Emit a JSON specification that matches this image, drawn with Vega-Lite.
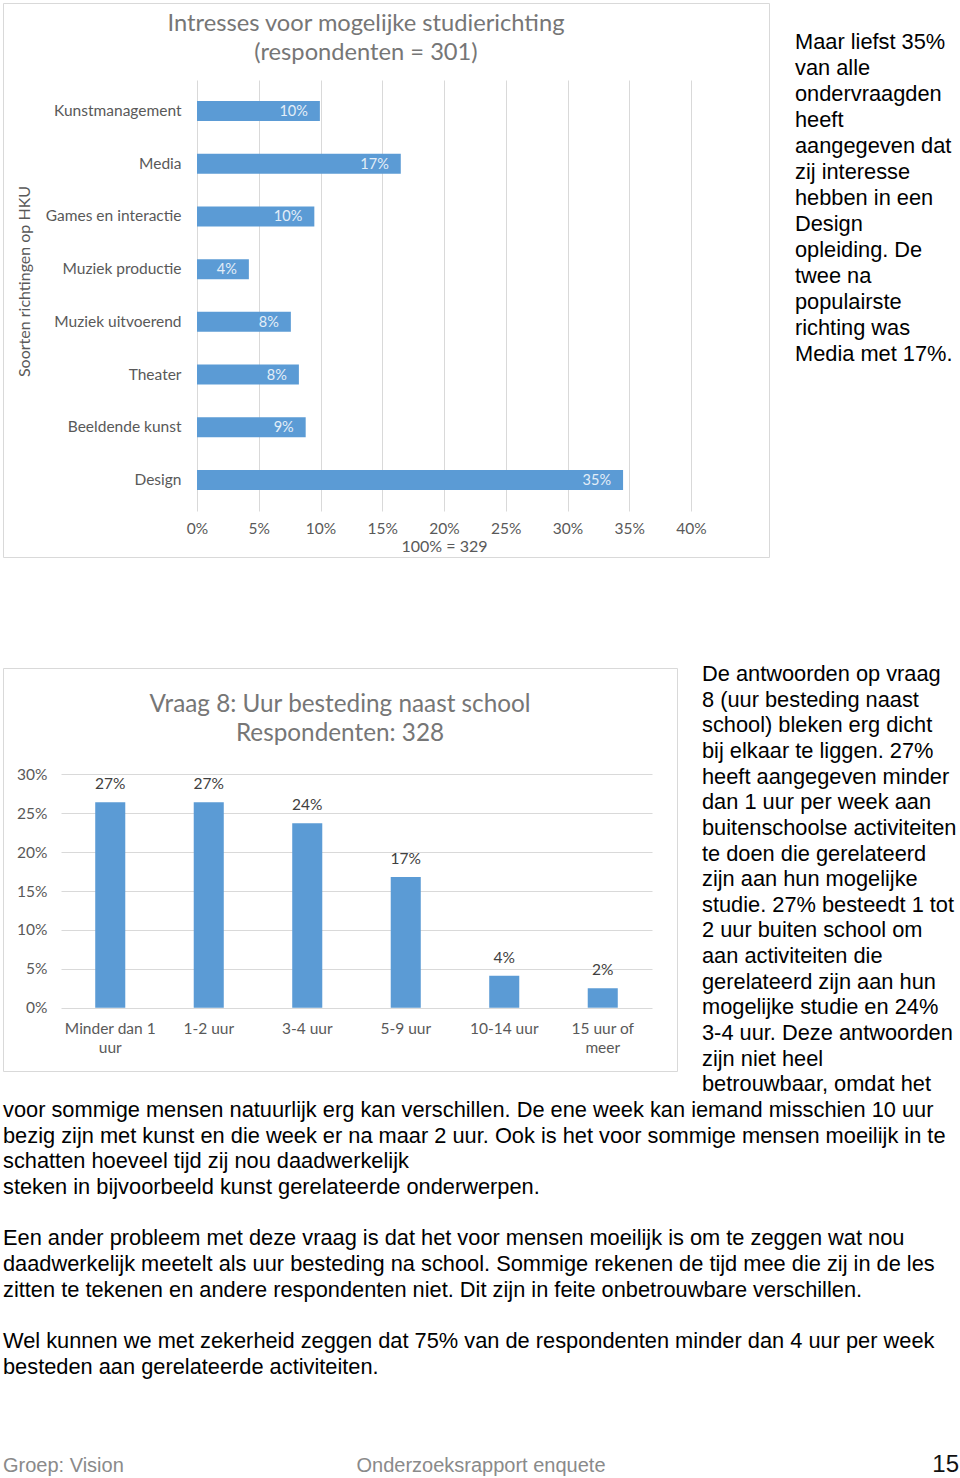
{
  "$schema": "https://vega.github.io/schema/vega-lite/v6.json",
  "padding": {"left": 2, "top": 2, "right": 0, "bottom": 0},
  "bounds": "flush",
  "spacing": 111,
  "config": {
    "view": {"stroke": "#d9d9d9", "strokeWidth": 1},
    "axis": {"labelFont": "Lato", "titleFont": "Lato", "labelColor": "#595959", "titleColor": "#595959", "labelFontSize": 15.5, "titleFontSize": 16, "titleFontWeight": "normal", "domain": false, "ticks": false, "gridColor": "#d9d9d9"},
    "title": {"font": "Lato", "fontWeight": "normal", "color": "#767676", "fontSize": 23.7, "lineHeight": 29}
  },
  "datasets": {
    "studie": [
      {"richting": "Kunstmanagement", "pct": 9.95, "label": "10%"},
      {"richting": "Media", "pct": 16.5, "label": "17%"},
      {"richting": "Games en interactie", "pct": 9.5, "label": "10%"},
      {"richting": "Muziek productie", "pct": 4.2, "label": "4%"},
      {"richting": "Muziek uitvoerend", "pct": 7.6, "label": "8%"},
      {"richting": "Theater", "pct": 8.25, "label": "8%"},
      {"richting": "Beeldende kunst", "pct": 8.8, "label": "9%"},
      {"richting": "Design", "pct": 34.5, "label": "35%"}
    ],
    "uren": [
      {"uren": "Minder dan 1 uur", "pct": 26.4, "label": "27%"},
      {"uren": "1-2 uur", "pct": 26.4, "label": "27%"},
      {"uren": "3-4 uur", "pct": 23.7, "label": "24%"},
      {"uren": "5-9 uur", "pct": 16.8, "label": "17%"},
      {"uren": "10-14 uur", "pct": 4.1, "label": "4%"},
      {"uren": "15 uur of meer", "pct": 2.5, "label": "2%"}
    ],
    "tekst1": [
      {"regel": 1, "tekst": "Maar liefst 35%"},
      {"regel": 2, "tekst": "\u00a0van alle"},
      {"regel": 3, "tekst": "ondervraagden"},
      {"regel": 4, "tekst": "heeft"},
      {"regel": 5, "tekst": "aangegeven dat"},
      {"regel": 6, "tekst": "zij interesse"},
      {"regel": 7, "tekst": "hebben in een"},
      {"regel": 8, "tekst": "Design"},
      {"regel": 9, "tekst": "opleiding. De"},
      {"regel": 10, "tekst": "twee na"},
      {"regel": 11, "tekst": "populairste"},
      {"regel": 12, "tekst": "richting was"},
      {"regel": 13, "tekst": "Media met 17%."}
    ],
    "tekst2": [
      {"regel": 1, "tekst": "De antwoorden op vraag"},
      {"regel": 2, "tekst": "8 (uur besteding naast"},
      {"regel": 3, "tekst": "school) bleken erg dicht"},
      {"regel": 4, "tekst": "bij elkaar te liggen. 27%"},
      {"regel": 5, "tekst": "heeft aangegeven minder"},
      {"regel": 6, "tekst": "dan 1 uur per week aan"},
      {"regel": 7, "tekst": "buitenschoolse activiteiten"},
      {"regel": 8, "tekst": "te doen die gerelateerd"},
      {"regel": 9, "tekst": "zijn aan hun mogelijke"},
      {"regel": 10, "tekst": "studie. 27% besteedt 1 tot"},
      {"regel": 11, "tekst": "2 uur buiten school om"},
      {"regel": 12, "tekst": "aan activiteiten die"},
      {"regel": 13, "tekst": "gerelateerd zijn aan hun"},
      {"regel": 14, "tekst": "mogelijke studie en 24%"},
      {"regel": 15, "tekst": "3-4 uur. Deze antwoorden"},
      {"regel": 16, "tekst": "zijn niet heel"},
      {"regel": 17, "tekst": "betrouwbaar, omdat het"},
      {"regel": 18, "tekst": "voor sommige mensen natuurlijk erg kan verschillen. De ene week kan iemand misschien 10 uur"},
      {"regel": 19, "tekst": "bezig zijn met kunst en die week er na maar 2 uur. Ook is het voor sommige mensen moeilijk in te"},
      {"regel": 20, "tekst": "schatten hoeveel tijd zij nou daadwerkelijk"},
      {"regel": 21, "tekst": "steken in bijvoorbeeld kunst gerelateerde onderwerpen."},
      {"regel": 23, "tekst": "Een ander probleem met deze vraag is dat het voor mensen moeilijk is om te zeggen wat nou"},
      {"regel": 24, "tekst": "daadwerkelijk meetelt als uur besteding na school. Sommige rekenen de tijd mee die zij in de les"},
      {"regel": 25, "tekst": "zitten te tekenen en andere respondenten niet. Dit zijn in feite onbetrouwbare verschillen."},
      {"regel": 27, "tekst": "Wel kunnen we met zekerheid zeggen dat 75% van de respondenten minder dan 4 uur per week"},
      {"regel": 28, "tekst": "besteden aan gerelateerde activiteiten."}
    ],
    "voet": [
      {"deel": "groep", "tekst": "Groep: Vision"},
      {"deel": "titel", "tekst": "Onderzoeksrapport enquete"},
      {"deel": "pagina", "tekst": "15"}
    ]
  },
  "vconcat": [
    {
      "width": 766,
      "height": 554,
      "title": {"text": ["Intresses voor mogelijke studierichting", "(respondenten = 301)"], "anchor": "middle", "dx": -20, "offset": -62},
      "resolve": {"scale": {"y": "independent"}},
      "layer": [
        {
          "data": {"name": "studie"},
          "encoding": {
            "y": {
              "field": "richting", "type": "nominal", "sort": null,
              "scale": {"range": [77, 508], "paddingInner": 0.62, "paddingOuter": 0.4},
              "axis": {"title": "Soorten richtingen op HKU", "orient": "left", "offset": -194, "labelPadding": 16, "grid": false, "titlePadding": 13, "titleY": 278, "labelLimit": 300}
            }
          },
          "resolve": {"axis": {"x": "independent"}},
          "layer": [
            {
              "mark": {"type": "bar", "color": "#5b9bd5"},
              "encoding": {
                "x": {
                  "field": "pct", "type": "quantitative",
                  "scale": {"domain": [0, 40], "range": [194, 688], "nice": false, "zero": true},
                  "axis": {"title": "100% = 329", "orient": "bottom", "offset": -46, "values": [0, 5, 10, 15, 20, 25, 30, 35, 40], "labelExpr": "datum.value + '%'", "labelFlush": false, "grid": false, "labelPadding": 10, "titlePadding": 2}
                }
              }
            },
            {
              "mark": {"type": "text", "align": "right", "baseline": "middle", "dx": -12, "dy": 1, "color": "#e3eef8", "font": "Lato", "fontSize": 14.5},
              "encoding": {
                "x": {
                  "field": "pct", "type": "quantitative",
                  "axis": {"title": null, "orient": "top", "values": [0, 5, 10, 15, 20, 25, 30, 35, 40], "labels": false, "grid": true}
                },
                "text": {"field": "label"}
              }
            }
          ]
        },
        {
          "data": {"name": "tekst1"},
          "mark": {"type": "text", "align": "left", "baseline": "middle", "dx": 26, "font": "Liberation Sans", "fontSize": 21.8, "color": "#000000"},
          "encoding": {
            "x": {"value": "width"},
            "y": {"field": "regel", "type": "quantitative", "axis": null, "scale": {"domain": [-0.5, 20.808], "reverse": true, "zero": false, "nice": false}},
            "text": {"field": "tekst"}
          }
        }
      ]
    },
    {
      "width": 674,
      "height": 403,
      "title": {"text": ["Vraag 8: Uur besteding naast school", "Respondenten: 328"], "anchor": "middle", "offset": -82, "fontSize": 24.3},
      "resolve": {"scale": {"y": "independent"}},
      "layer": [
        {
          "data": {"name": "uren"},
          "encoding": {
            "x": {
              "field": "uren", "type": "nominal", "sort": null,
              "scale": {"range": [58, 649], "paddingInner": 0.695, "paddingOuter": 0.3475},
              "axis": {"title": null, "orient": "bottom", "offset": -63, "labelAngle": 0, "labelPadding": 13, "labelLineHeight": 19, "labelExpr": "datum.label == 'Minder dan 1 uur' ? ['Minder dan 1', 'uur'] : datum.label == '15 uur of meer' ? ['15 uur of', 'meer'] : datum.label", "grid": false}
            },
            "y": {
              "field": "pct", "type": "quantitative",
              "scale": {"domain": [0, 30], "range": [339.7, 106.3], "nice": false},
              "axis": {"title": null, "orient": "left", "offset": -58, "labelPadding": 14, "values": [0, 5, 10, 15, 20, 25, 30], "labelExpr": "datum.value + '%'", "grid": true}
            }
          },
          "layer": [
            {"mark": {"type": "bar", "color": "#5b9bd5"}},
            {
              "mark": {"type": "text", "baseline": "bottom", "dy": -10, "color": "#404040", "font": "Lato", "fontSize": 15.5},
              "encoding": {"text": {"field": "label"}}
            }
          ]
        },
        {
          "data": {"name": "tekst2"},
          "encoding": {
            "y": {"field": "regel", "type": "quantitative", "axis": null, "scale": {"domain": [0.766, 16.478], "reverse": true, "zero": false, "nice": false}},
            "text": {"field": "tekst"}
          },
          "layer": [
            {
              "transform": [{"filter": "datum.regel <= 17"}],
              "mark": {"type": "text", "align": "left", "baseline": "middle", "dx": 25, "font": "Liberation Sans", "fontSize": 21.8, "color": "#000000"},
              "encoding": {"x": {"value": "width"}}
            },
            {
              "transform": [{"filter": "datum.regel >= 18"}],
              "mark": {"type": "text", "align": "left", "baseline": "middle", "font": "Liberation Sans", "fontSize": 21.8, "color": "#000000"},
              "encoding": {"x": {"value": 0}}
            }
          ]
        }
      ]
    },
    {
      "width": 956,
      "height": 290,
      "view": {"stroke": null},
      "data": {"name": "voet"},
      "encoding": {
        "x": {"field": "deel", "type": "nominal", "axis": null, "scale": {"type": "point", "domain": ["groep", "titel", "pagina"], "padding": 0}},
        "y": {"value": "height"},
        "text": {"field": "tekst"}
      },
      "layer": [
        {
          "transform": [{"filter": "datum.deel == 'groep'"}],
          "mark": {"type": "text", "align": "left", "baseline": "alphabetic", "font": "Liberation Sans", "fontSize": 20, "color": "#8a8a8a"}
        },
        {
          "transform": [{"filter": "datum.deel == 'titel'"}],
          "mark": {"type": "text", "align": "center", "baseline": "alphabetic", "font": "Liberation Sans", "fontSize": 20, "color": "#8a8a8a"}
        },
        {
          "transform": [{"filter": "datum.deel == 'pagina'"}],
          "mark": {"type": "text", "align": "right", "baseline": "alphabetic", "font": "Liberation Sans", "fontSize": 24, "color": "#111111"}
        }
      ]
    }
  ]
}
